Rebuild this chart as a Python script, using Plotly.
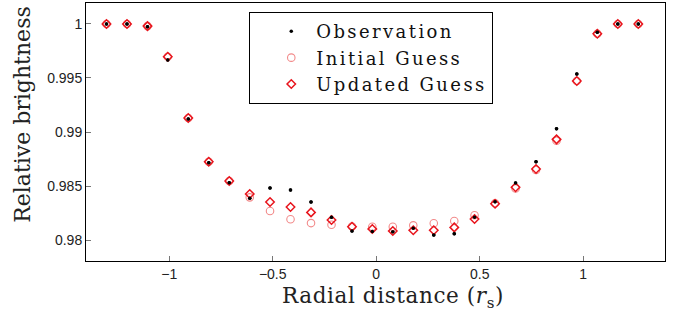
import plotly.graph_objects as go

# Radial positions (r_s)
radial = [-1.303, -1.204, -1.105, -1.007, -0.908, -0.809, -0.710, -0.611, -0.513,
          -0.414, -0.315, -0.216, -0.117, -0.019, 0.080, 0.179, 0.278, 0.377,
          0.475, 0.574, 0.673, 0.772, 0.871, 0.969, 1.068, 1.167, 1.266]

observation = [1.0000, 1.0000, 0.99975, 0.99667, 0.99120, 0.98716, 0.98530, 0.98386, 0.98481,
               0.98463, 0.98352, 0.98210, 0.98083, 0.98080, 0.98077, 0.98108, 0.98046, 0.98058,
               0.98210, 0.98355, 0.98528, 0.98725, 0.99031, 0.99537, 0.99923, 1.0000, 1.0000]

initial_guess = [1.0000, 1.0000, 0.99980, 0.99697, 0.99130, 0.98725, 0.98546, 0.98395, 0.98269,
                 0.98192, 0.98157, 0.98142, 0.98125, 0.98123, 0.98123, 0.98136, 0.98155, 0.98176,
                 0.98229, 0.98340, 0.98478, 0.98648, 0.98920, 0.99472, 0.99910, 1.0000, 1.0000]

updated_guess = [1.0000, 1.0000, 0.99980, 0.99697, 0.99130, 0.98725, 0.98546, 0.98426, 0.98352,
                 0.98306, 0.98256, 0.98185, 0.98123, 0.98102, 0.98083, 0.98090, 0.98090, 0.98117,
                 0.98194, 0.98336, 0.98488, 0.98657, 0.98932, 0.99472, 0.99910, 1.0000, 1.0000]

y_ticks = [0.98, 0.985, 0.99, 0.995, 1.0]
y_tick_text = ["0.98", "0.985", "0.99", "0.995", "1"]
x_ticks = [-1, -0.5, 0, 0.5, 1]
x_tick_text = ["\u22121", "\u22120.5", "0", "0.5", "1"]

serif = "DejaVu Serif"
sans = "Liberation Sans, Arial, sans-serif"


def spaced(txt, px):
    return '<span style="letter-spacing:%spx">%s</span>' % (px, txt)


fig = go.Figure()
fig.add_trace(go.Scatter(
    x=radial, y=observation, mode="markers", name=spaced("Observation", 2.4),
    marker=dict(symbol="circle", size=3.5, color="black"),
))
fig.add_trace(go.Scatter(
    x=radial, y=initial_guess, mode="markers", name=spaced("Initial Guess", 2.4),
    marker=dict(symbol="circle-open", size=7.5, color="#f28a8a", line=dict(width=1.1)),
))
fig.add_trace(go.Scatter(
    x=radial, y=updated_guess, mode="markers", name=spaced("Updated Guess", 2.4),
    marker=dict(symbol="diamond-open", size=6.5, color="#e8141c", line=dict(width=1.5)),
))
# redraw observations on top
fig.add_trace(go.Scatter(
    x=radial, y=observation, mode="markers", showlegend=False, hoverinfo="skip",
    marker=dict(symbol="circle", size=3.5, color="black"),
))

fig.update_layout(
    width=684, height=316,
    margin=dict(l=86, r=19, t=3, b=55, autoexpand=False),
    paper_bgcolor="white", plot_bgcolor="white",
    showlegend=True,
    legend=dict(
        x=0.282, y=0.965, xanchor="left", yanchor="top",
        bgcolor="white", bordercolor="black", borderwidth=1,
        font=dict(family=serif, size=18, color="#111"),
        itemsizing="trace", tracegroupgap=0, indentation=16, itemwidth=40,
    ),
    xaxis=dict(
        range=[-1.402, 1.395], tickvals=x_ticks, ticktext=x_tick_text,
        ticks="inside", ticklen=5, tickcolor="#777", tickwidth=1,
        showline=True, linecolor="black", linewidth=1, mirror=True,
        showgrid=False, zeroline=False, automargin=False,
        tickfont=dict(family=sans, size=14, color="#222"),
    ),
    yaxis=dict(
        range=[0.97806, 1.00194], tickvals=y_ticks, ticktext=y_tick_text,
        ticks="inside", ticklen=5, tickcolor="#777", tickwidth=1,
        showline=True, linecolor="black", linewidth=1, mirror=True,
        showgrid=False, zeroline=False, automargin=False,
        tickfont=dict(family=sans, size=14, color="#222"),
    ),
    annotations=[
        dict(text="Relative brightness", textangle=-90, showarrow=False,
             xref="paper", yref="paper", x=-0.109, y=0.57, xanchor="center", yanchor="middle",
             font=dict(family=serif, size=22, color="#222")),
        dict(text=spaced("Radial distance (<i>r</i><sub>s</sub>)", 0.6), showarrow=False,
             xref="paper", yref="paper", x=0.53, y=-0.14, xanchor="center", yanchor="middle",
             font=dict(family=serif, size=21.5, color="#222")),
    ],
)

fig.write_html("out.html", config={"displayModeBar": False},
               post_script="document.body.style.margin='0';document.body.style.padding='0';")
